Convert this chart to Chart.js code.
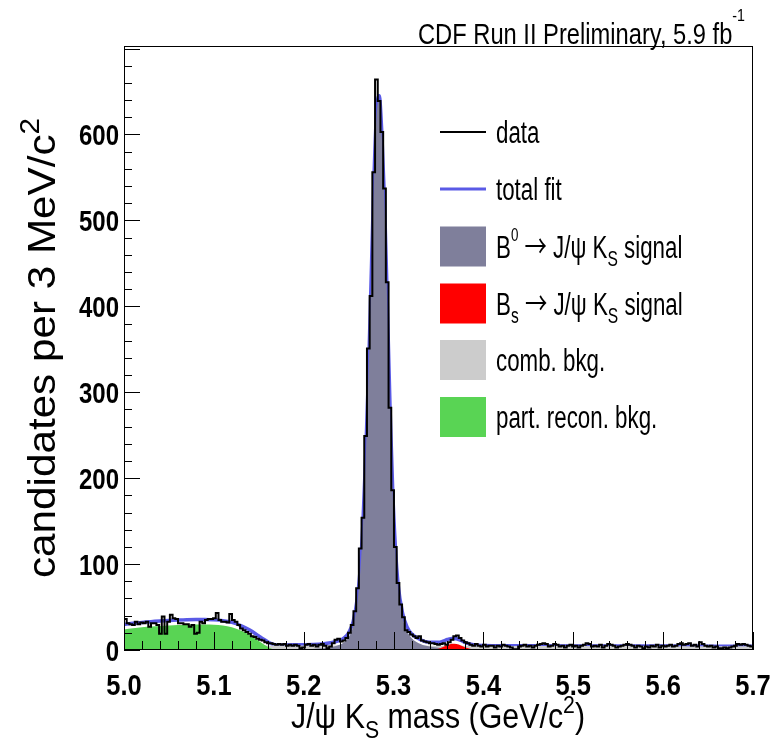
<!DOCTYPE html>
<html>
<head>
<meta charset="utf-8">
<title>J/psi K_S mass spectrum</title>
<script src="https://cdn.jsdelivr.net/npm/chart.js@4.4.1/dist/chart.umd.min.js"></script>
<style>
  html, body { margin: 0; padding: 0; background: #ffffff; }
  #wrap { width: 771px; height: 747px; position: relative; }
</style>
</head>
<body>
<div id="wrap"><canvas id="massPlot" width="771" height="747"></canvas></div>
<script>
// ---- binned candidates: 3 MeV bins from 5.0 to 5.7 GeV/c^2 ----
const massMin = 5.0;
const massMax = 5.7;
const candidates = [
  36,31,30,29,33,30,32,31,33,27,
  31,31,29,19,39,19,33,41,37,36,
  31,31,30,30,27,29,19,20,33,31,
  35,36,36,37,43,35,33,33,32,42,
  35,33,29,25,23,21,19,16,15,13,
  12,11,9,8,8,7,
  6,7,6,7,5,6,5,6,5,2,
  3,6,7,5,6,4,6,7,5,2,
  4,8,12,13,10,11,14,20,29,45,
  72,118,154,249,351,412,556,664,639,603,
  537,428,282,186,120,78,53,38,23,21,
  18,16,14,16,11,10,9,8,8,7,
  6,
  7,8,6,9,12,16,17,14,11,9,8,6,5,7,
  5,4,6,4,5,5,3,5,4,6,
  5,4,3,1,1,4,5,6,4,5,
  3,5,6,7,8,7,4,5,7,6,
  4,5,3,5,6,4,5,3,5,6,
  8,7,4,5,4,6,3,5,7,6,
  5,3,4,5,6,7,6,5,3,5,
  4,2,4,3,5,4,6,3,5,4,
  5,6,4,5,7,8,6,7,8,5,
  6,4,9,7,5,4,5,3,4,2,
  2,3,2,3,4,5,7,6,7,6,
  5,4
];

// ---- fit components, sampled along the mass axis ----
const fitMass = [
  5.000,5.010,5.020,5.030,5.040,5.050,5.060,5.070,5.080,5.090,
  5.100,5.110,5.120,5.130,5.140,5.150,5.155,5.160,5.165,5.170,
  5.180,5.190,5.200,5.210,5.220,5.230,5.240,5.245,5.250,5.255,
  5.260,5.263,5.266,5.269,5.272,5.275,5.278,5.281,5.284,5.287,
  5.290,5.293,5.296,5.299,5.302,5.305,5.310,5.315,5.320,5.330,
  5.340,5.350,5.355,5.360,5.365,5.370,5.375,5.380,5.390,5.400,
  5.420,5.450,5.500,5.550,5.600,5.650,5.700
];
const partReconBkg = [
  24.0,25.3,26.4,27.3,28.0,28.6,29.1,29.5,29.7,29.7,
  29.4,28.5,26.5,22.8,17.5,10.5,7.0,3.8,1.2,0,
  0,0,0,0,0,0,0,0,0,0,
  0,0,0,0,0,0,0,0,0,0,
  0,0,0,0,0,0,0,0,0,0,
  0,0,0,0,0,0,0,0,0,0,
  0,0,0,0,0,0,0
];
const combBkg = [
  5.60,5.58,5.56,5.54,5.52,5.50,5.48,5.46,5.44,5.42,
  5.40,5.38,5.36,5.34,5.32,5.30,5.29,5.28,5.27,5.26,
  5.24,5.22,5.20,5.18,5.16,5.14,5.12,5.11,5.10,5.09,
  5.08,5.07,5.07,5.06,5.06,5.05,5.04,5.04,5.03,5.03,
  5.02,5.01,5.01,5.00,5.00,4.99,4.98,4.97,4.96,4.94,
  4.92,4.90,4.89,4.88,4.87,4.86,4.85,4.84,4.82,4.80,
  4.77,4.72,4.64,4.57,4.50,4.44,4.38
];
const b0Signal = [
  0.15,0.15,0.16,0.17,0.18,0.19,0.20,0.21,0.22,0.24,
  0.26,0.28,0.30,0.33,0.37,0.42,0.45,0.48,0.52,0.56,
  0.66,0.80,1.0,1.3,1.9,3.2,6.0,9.0,15,28,
  58,92,145,222,315,425,538,620,640,595,
  515,400,280,182,115,72,38,22,14,7.0,
  4.0,2.5,2.0,1.6,1.3,1.1,0.9,0.75,0.55,0.42,
  0.28,0.18,0.10,0.07,0.05,0.04,0.03
];
const bsSignal = [
  0,0,0,0,0,0,0,0,0,0,
  0,0,0,0,0,0,0,0,0,0,
  0,0,0,0,0,0,0,0,0,0,
  0,0,0,0,0,0,0,0,0,0,
  0,0,0,0,0,0,0,0,0,0.02,
  0.15,1.5,3.4,5.7,7.3,7.1,5.3,2.9,0.4,0.03,
  0,0,0,0,0,0,0
];

// ---- axes ----
const xTicks = [5.0, 5.1, 5.2, 5.3, 5.4, 5.5, 5.6, 5.7];
const xTickLabels = ['5.0', '5.1', '5.2', '5.3', '5.4', '5.5', '5.6', '5.7'];
const yTicks = [0, 100, 200, 300, 400, 500, 600];
const yTickLabels = ['0', '100', '200', '300', '400', '500', '600'];
const yMax = 703;

// ---- colours ----
const colB0 = '#7f7f9b';
const colBs = '#ff0000';
const colComb = '#cccccc';
const colPart = '#59d454';
const colFit = '#5a5ae6';

// histogram outline: each bin holds its value from its left edge to the next edge
const binWidth = (massMax - massMin) / candidates.length;
const histPoints = candidates.map((v, i) => ({ x: massMin + i * binWidth, y: v }));
histPoints.push({ x: massMax, y: candidates[candidates.length - 1] });

const curve = arr => arr.map((v, i) => ({ x: fitMass[i], y: v }));
const totalFit = fitMass.map((_, i) => partReconBkg[i] + combBkg[i] + b0Signal[i] + bsSignal[i]);

const FONT = '"Liberation Sans", Arial, Helvetica, sans-serif';

// text made of plain / subscript / superscript runs, squeezed horizontally
function runFont(r, size, weight) {
  const s = r.scale ? size * r.scale : (r.sub || r.sup ? size * 0.7 : size);
  const fam = r.family ? `"${r.family}", ${FONT}` : FONT;
  return `${r.weight || weight} ${s}px ${fam}`;
}
function runsWidth(ctx, runs, size, weight) {
  let w = 0;
  for (const r of runs) {
    ctx.font = runFont(r, size, weight);
    w += ctx.measureText(r.t).width;
  }
  return w;
}
function drawRuns(ctx, runs, o) {
  const weight = o.weight || 'normal';
  const natural = runsWidth(ctx, runs, o.size, weight);
  const sx = o.width ? o.width / natural : (o.sx || 1);
  const total = natural * sx;
  const start = o.align === 'right' ? -total : o.align === 'center' ? -total / 2 : 0;
  ctx.save();
  ctx.translate(o.x, o.y);
  if (o.rotate) ctx.rotate(o.rotate);
  ctx.scale(sx, 1);
  ctx.fillStyle = o.color || '#000';
  ctx.textAlign = 'left';
  ctx.textBaseline = 'alphabetic';
  let cx = start / sx;
  for (const r of runs) {
    let dy = 0;
    if (r.sub) dy = o.size * (r.dy !== undefined ? r.dy : 0.28);
    if (r.sup) dy = -o.size * (r.dy !== undefined ? r.dy : 0.45);
    if (r.lift) dy = -o.size * r.lift;
    ctx.font = runFont(r, o.size, weight);
    ctx.fillText(r.t, cx, dy);
    cx += ctx.measureText(r.t).width;
  }
  ctx.restore();
}

const arrow = { t: '\u2192', family: 'Noto Sans CJK JP', weight: 'normal', lift: 0.02 };
const legendEntries = [
  { kind: 'line', color: '#000000', width: 2, runs: [{ t: 'data' }] },
  { kind: 'line', color: colFit, width: 3, runs: [{ t: 'total fit' }] },
  { kind: 'box', color: colB0, runs: [{ t: 'B' }, { t: '0', sup: true, scale: 0.6, dy: 0.52 }, { t: ' ' }, arrow, { t: ' J/\u03C8 K' }, { t: 'S', sub: true }, { t: ' signal' }] },
  { kind: 'box', color: colBs, runs: [{ t: 'B' }, { t: 's', sub: true }, { t: ' ' }, arrow, { t: ' J/\u03C8 K' }, { t: 'S', sub: true }, { t: ' signal' }] },
  { kind: 'box', color: colComb, runs: [{ t: 'comb. bkg.' }] },
  { kind: 'box', color: colPart, runs: [{ t: 'part. recon. bkg.' }] }
];

const rootStyle = {
  id: 'rootStyle',
  afterDraw(chart) {
    const ctx = chart.ctx;
    const a = chart.chartArea;
    const xs = chart.scales.x, ys = chart.scales.y;

    // frame
    ctx.save();
    ctx.strokeStyle = '#000';
    ctx.lineWidth = 1;
    ctx.strokeRect(a.left + 0.5, a.top + 0.5, a.right - a.left - 1, a.bottom - a.top - 1);

    // inward tick marks
    ctx.beginPath();
    for (let k = 0; k <= 35; k++) {
      const px = Math.round(xs.getPixelForValue(massMin + 0.02 * k)) + 0.5;
      const len = k % 5 === 0 ? 18 : 9;
      ctx.moveTo(px, a.bottom);
      ctx.lineTo(px, a.bottom - len);
    }
    for (let k = 0; k <= 35; k++) {
      if (20 * k > yMax) break;
      const py = Math.round(ys.getPixelForValue(20 * k)) + 0.5;
      const len = k % 5 === 0 ? 16 : 8;
      ctx.moveTo(a.left, py);
      ctx.lineTo(a.left + len, py);
    }
    ctx.stroke();
    ctx.restore();

    // tick labels
    xTicks.forEach((v, i) => {
      drawRuns(ctx, [{ t: xTickLabels[i] }], { x: xs.getPixelForValue(v), y: 695, size: 30, weight: 'bold', align: 'center', sx: 0.85 });
    });
    yTicks.forEach((v, i) => {
      drawRuns(ctx, [{ t: yTickLabels[i] }], { x: 119, y: ys.getPixelForValue(v) + 11, size: 30, weight: 'bold', align: 'right', sx: 0.8 });
    });

    // axis titles
    drawRuns(ctx, [{ t: 'J/\u03C8 K' }, { t: 'S', sub: true }, { t: ' mass (GeV/c' }, { t: '2', sup: true, dy: 0.42 }, { t: ')' }],
      { x: (291 + 585) / 2, y: 728, size: 35, align: 'center', width: 294 });
    drawRuns(ctx, [{ t: 'candidates per 3 MeV/c' }, { t: '2', sup: true, dy: 0.42 }],
      { x: 55, y: 348, size: 39, align: 'center', width: 460, rotate: -Math.PI / 2 });

    // header
    drawRuns(ctx, [{ t: 'CDF Run II Preliminary, 5.9 fb' }, { t: '-1', sup: true, scale: 0.6, dy: 0.8 }],
      { x: 745, y: 44, size: 29, align: 'right', width: 327 });

    // legend
    const centers = [132, 189, 246.5, 303.5, 360, 417];
    legendEntries.forEach((e, i) => {
      const cy = centers[i];
      ctx.save();
      if (e.kind === 'line') {
        ctx.strokeStyle = e.color;
        ctx.lineWidth = e.width;
        ctx.beginPath();
        ctx.moveTo(440, cy);
        ctx.lineTo(486, cy);
        ctx.stroke();
      } else {
        ctx.fillStyle = e.color;
        ctx.fillRect(440, cy - 20, 46, 40);
      }
      ctx.restore();
      drawRuns(ctx, e.runs, { x: 496, y: cy + 11, size: 31, align: 'left', sx: 0.72 });
    });
  }
};

const fillSet = (label, arr, color, order) => ({
  label, data: curve(arr), order,
  backgroundColor: color, borderColor: 'rgba(0,0,0,0)', borderWidth: 0,
  fill: 'origin', pointRadius: 0, cubicInterpolationMode: 'monotone'
});

new Chart(document.getElementById('massPlot'), {
  type: 'line',
  data: {
    datasets: [
      { label: 'data', data: histPoints, order: 0, stepped: 'before', borderColor: '#000000', borderWidth: 2,
        pointRadius: 0, fill: false },
      fillSet('Bs signal', bsSignal, colBs, 1),
      fillSet('part. recon. bkg.', partReconBkg, colPart, 2),
      fillSet('B0 signal', b0Signal, colB0, 3),
      fillSet('comb. bkg.', combBkg, colComb, 4),
      { label: 'total fit', data: curve(totalFit), order: 5, borderColor: colFit, borderWidth: 3.5,
        pointRadius: 0, fill: false, cubicInterpolationMode: 'monotone' }
    ]
  },
  options: {
    responsive: false,
    animation: false,
    devicePixelRatio: 1,
    layout: { padding: { top: 46, right: 18, left: 0, bottom: 0 } },
    plugins: { legend: { display: false }, tooltip: { enabled: false } },
    scales: {
      x: {
        type: 'linear', min: massMin, max: massMax,
        grid: { display: false }, border: { display: false },
        ticks: { display: false },
        afterBuildTicks: s => { s.ticks = xTicks.map(v => ({ value: v })); },
        afterFit: s => { s.height = 97; }
      },
      y: {
        type: 'linear', min: 0, max: yMax,
        grid: { display: false }, border: { display: false },
        ticks: { display: false },
        afterBuildTicks: s => { s.ticks = yTicks.map(v => ({ value: v })); },
        afterFit: s => { s.width = 124; }
      }
    }
  },
  plugins: [rootStyle]
});
</script>
</body>
</html>
